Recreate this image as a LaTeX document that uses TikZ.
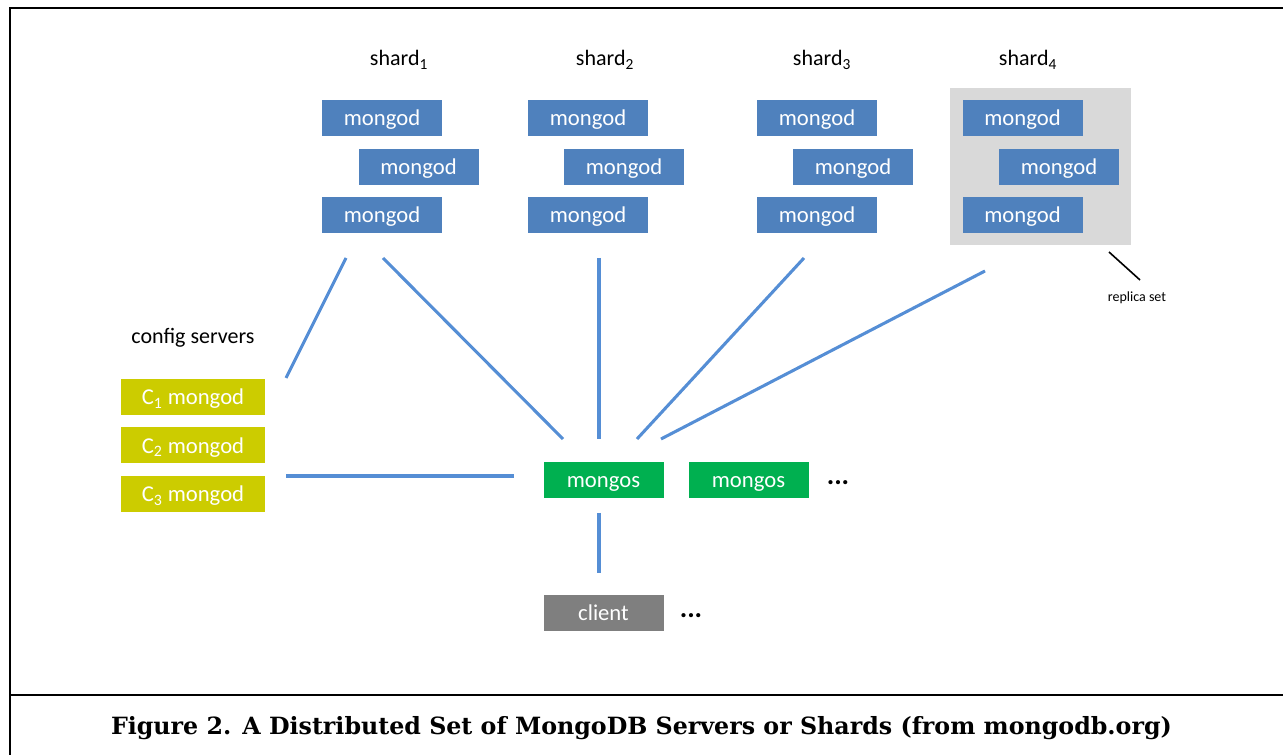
\documentclass[tikz,border=0pt]{standalone}
\usepackage{fontspec}
\setmainfont{Carlito}
\newfontfamily\capfont{DejaVu Serif}
\usetikzlibrary{calc}
\definecolor{boxblue}{HTML}{4F81BD}
\definecolor{linkblue}{HTML}{558ED5}
\definecolor{mgreen}{HTML}{00B050}
\definecolor{olive}{HTML}{CCCC00}
\definecolor{cgray}{HTML}{7F7F7F}
\definecolor{rsgray}{HTML}{D9D9D9}
\tikzset{
  srv/.style={rectangle, inner sep=0pt, minimum width=90pt, minimum height=27pt, text=white, font=\fontsize{17}{19}\selectfont, text height=11.5pt, text depth=0pt},
  mongod/.style={srv, fill=boxblue},
  cfg/.style={srv, fill=olive, minimum width=108pt},
  mongosbox/.style={srv, fill=mgreen},
  clientbox/.style={srv, fill=cgray},
  lbl/.style={inner sep=0pt, font=\fontsize{16.5}{18}\selectfont},
  link/.style={draw=linkblue, line width=2.3pt},
  frame/.style={draw=black, line width=2pt},
  dots/.style={inner sep=0pt, font=\fontsize{21}{22}\selectfont\bfseries}
}
\begin{document}
\begin{tikzpicture}[x=0.75pt, y=-0.75pt]
\useasboundingbox (0,0) rectangle (1283,755);
% frame
\draw[frame] (1283,8) -- (10,8) -- (10,756);
\draw[frame] (10,695) -- (1283,695);
% replica set background
\node[fill=rsgray, minimum width=135.75pt, minimum height=117.75pt, inner sep=0pt] (rs) at (1040.5,166.5) {};
% shard labels
\node[lbl] (l1) at (399,60) {shard\textsubscript{1}};
\node[lbl] (l2) at (605,60) {shard\textsubscript{2}};
\node[lbl] (l3) at (822,60) {shard\textsubscript{3}};
\node[lbl] (l4) at (1028,60) {shard\textsubscript{4}};
% shards
\node[mongod] (s1a) at (382,118) {mongod};
\node[mongod] (s1b) at (418.5,167) {mongod};
\node[mongod] (s1c) at (382,215) {mongod};
\node[mongod] (s2a) at (588,118) {mongod};
\node[mongod] (s2b) at (624,167) {mongod};
\node[mongod] (s2c) at (588,215) {mongod};
\node[mongod] (s3a) at (817,118) {mongod};
\node[mongod] (s3b) at (853,167) {mongod};
\node[mongod] (s3c) at (817,215) {mongod};
\node[mongod] (s4a) at (1022.5,118) {mongod};
\node[mongod] (s4b) at (1059,167) {mongod};
\node[mongod] (s4c) at (1022.5,215) {mongod};
% replica set label
\node[inner sep=0pt, font=\fontsize{10.5}{12}\selectfont] (rslbl) at (1137,298) {replica set};
\coordinate (rp1) at (1109,252);
\coordinate (rp2) at (1140,280);
\draw[black, line width=1.2pt] (rp1) -- (rp2);
% config servers
\node[lbl] (cfglbl) at (193,338) {config servers};
\node[cfg] (c1) at (193,397) {C\textsubscript{1} mongod};
\node[cfg] (c2) at (193,445.5) {C\textsubscript{2} mongod};
\node[cfg] (c3) at (193,494) {C\textsubscript{3} mongod};
% mongos
\node[mongosbox] (ms1) at (603.5,480) {mongos};
\node[mongosbox] (ms2) at (748.5,480) {mongos};
\node[dots] (d1) at (838,483) {...};
% client
\node[clientbox] (cl) at (603.5,613) {client};
\node[dots] (d2) at (691,616) {...};
% connector end points
\coordinate (a1) at (346,258);
\coordinate (a2) at (286,378);
\coordinate (b1) at (383,258);
\coordinate (b2) at (563,439);
\coordinate (cc1) at (599,258);
\coordinate (cc2) at (599,439);
\coordinate (e1) at (804,258);
\coordinate (e2) at (637,439);
\coordinate (f1) at (985,271);
\coordinate (f2) at (661,439);
\coordinate (h1) at (286,476);
\coordinate (h2) at (514,476);
\coordinate (v1) at (599,513);
\coordinate (v2) at (599,573);
\draw[link] (a1) -- (a2);
\draw[link] (b1) -- (b2);
\draw[link] (cc1) -- (cc2);
\draw[link] (e1) -- (e2);
\draw[link] (f1) -- (f2);
\draw[link] (h1) -- (h2);
\draw[link] (v1) -- (v2);
% caption
\node[inner sep=0pt, font=\capfont\bfseries\fontsize{17.8}{20}\selectfont] (cap) at (641.5,728) {Figure 2. A Distributed Set of MongoDB Servers or Shards (from mongodb.org)};
\end{tikzpicture}
\end{document}
